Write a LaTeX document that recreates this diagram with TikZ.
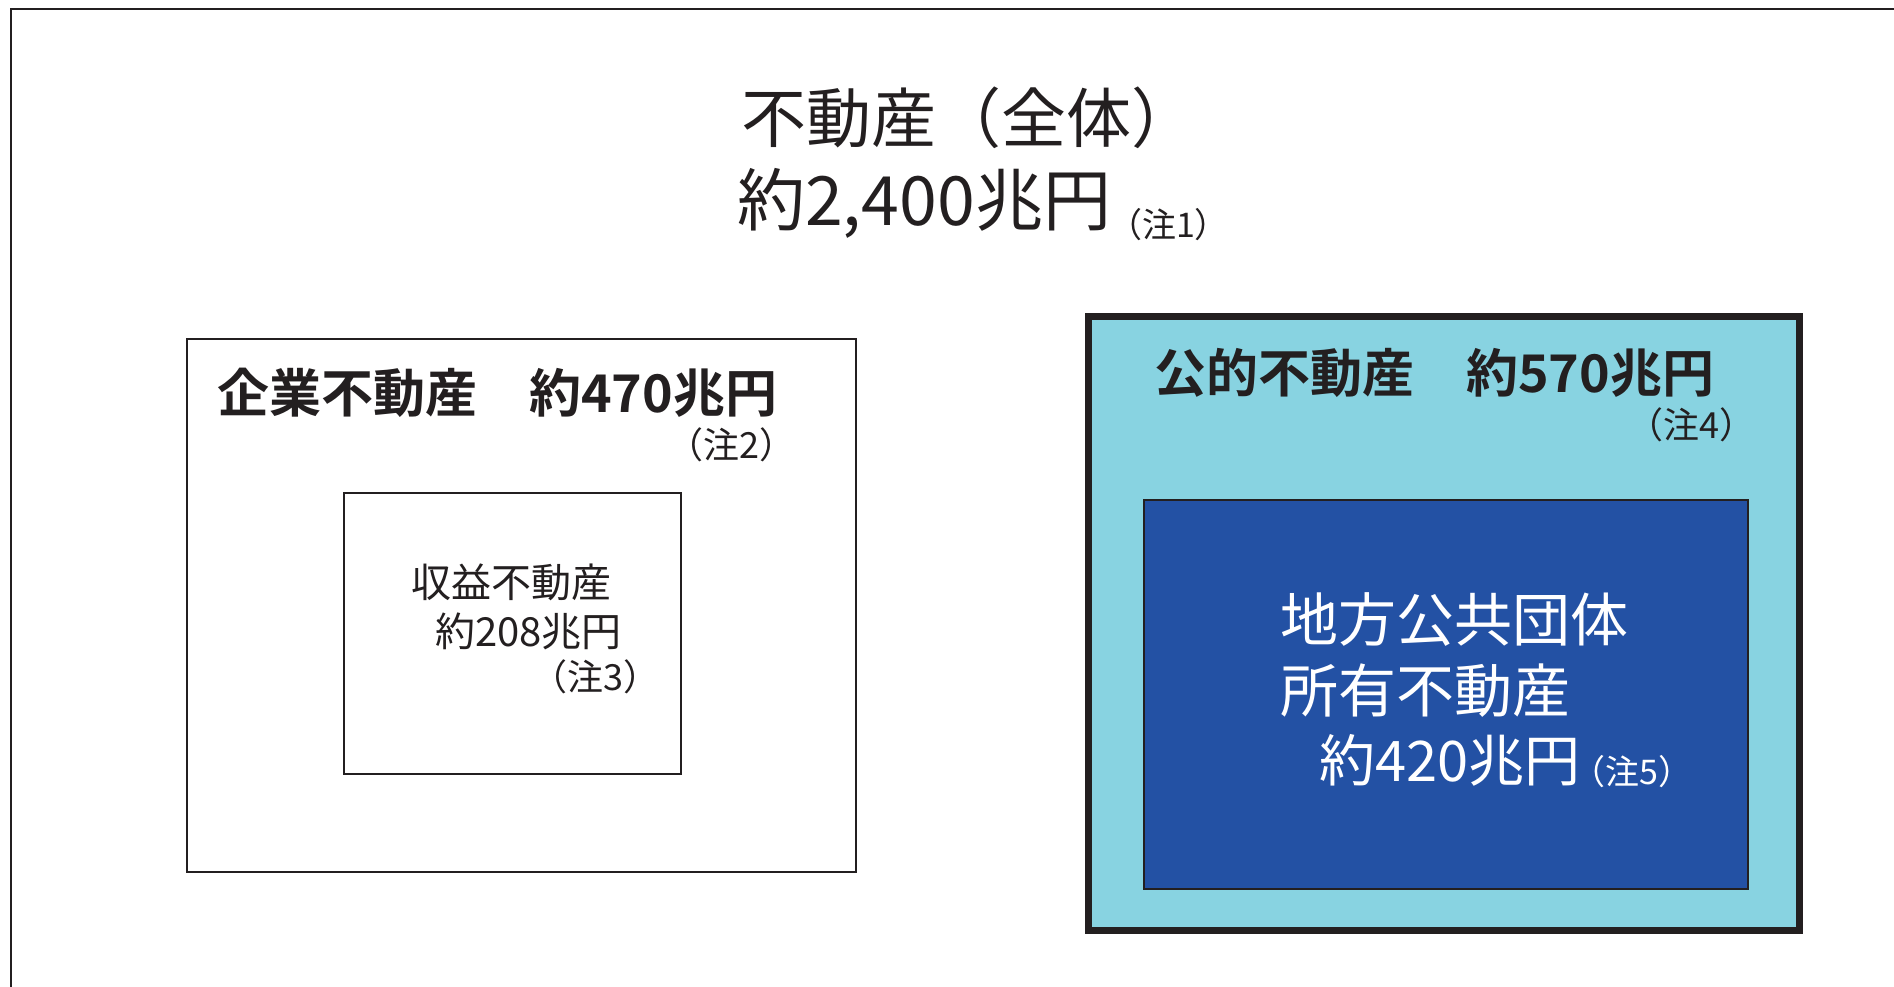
\documentclass[tikz,border=0pt]{standalone}
\usepackage{fontspec}
\setmainfont{Noto Sans CJK JP}
\newfontfamily\jpb{Noto Sans CJK JP Bold}
\definecolor{ink}{HTML}{231F20}
\definecolor{lightblue}{HTML}{88D3E1}
\definecolor{darkblue}{HTML}{2351A4}
\newcommand{\fs}[1]{\fontsize{#1}{#1}\selectfont}
\tikzset{
  txt/.style={anchor=west, inner sep=0pt, text=ink},
  boxw/.style={draw=ink, anchor=north west, inner sep=0pt, outer sep=0pt, fill=white},
}
\begin{document}
\begin{tikzpicture}[x=1pt,y=-1pt]
\useasboundingbox (0,0) rectangle (1894,987);
\fill[white] (0,0) rectangle (1894,987);
% outer frame (top and left edges visible)
\coordinate (fbl) at (11,990);
\coordinate (ftl) at (11,9);
\coordinate (ftr) at (1897,9);
\draw[ink, line width=2.5pt] (fbl) -- (ftl) -- (ftr);
% title
\node[txt] (t1) at (741,118) {\fs{65}不動産（全体）};
\node[txt] (t2) at (737,205) {\fs{68}約2,400兆円\kern-3pt\raisebox{-12pt}{\fs{34}（注1）}};
% corporate real estate
\node[boxw, line width=2pt, minimum width=669pt, minimum height=533pt] (corp) at (187,339) {};
\node[txt] (corph) at (217,393) {\jpb\fs{52}企業不動産　約470兆円};
\node[txt] (n2) at (667,445) {\fs{36}（注2）};
\node[boxw, line width=1.8pt, minimum width=337pt, minimum height=281pt] (inc) at (344,493) {};
\node[txt] (inc1) at (411,582) {\fs{40}収益不動産};
\node[txt] (inc2) at (435,631) {\fs{40}約208兆円};
\node[txt] (n3) at (531,677) {\fs{36}（注3）};
% public real estate
\node[boxw, fill=lightblue, line width=6.5pt, minimum width=711pt, minimum height=614pt] (pub) at (1088.5,316.5) {};
\node[txt] (pubh) at (1154,373) {\jpb\fs{52}公的不動産　約570兆円};
\node[txt] (n4) at (1627,425) {\fs{36}（注4）};
\node[boxw, fill=darkblue, line width=1.5pt, minimum width=604pt, minimum height=389pt] (loc) at (1144,500) {};
\node[txt, text=white] (loc1) at (1280,620) {\fs{58}地方公共団体};
\node[txt, text=white] (loc2) at (1280,691) {\fs{58}所有不動産};
\node[txt, text=white] (loc3) at (1319,761) {\fs{56}約420兆円\kern-9pt\raisebox{-3pt}{\fs{34}（注5）}};
\end{tikzpicture}
\end{document}
